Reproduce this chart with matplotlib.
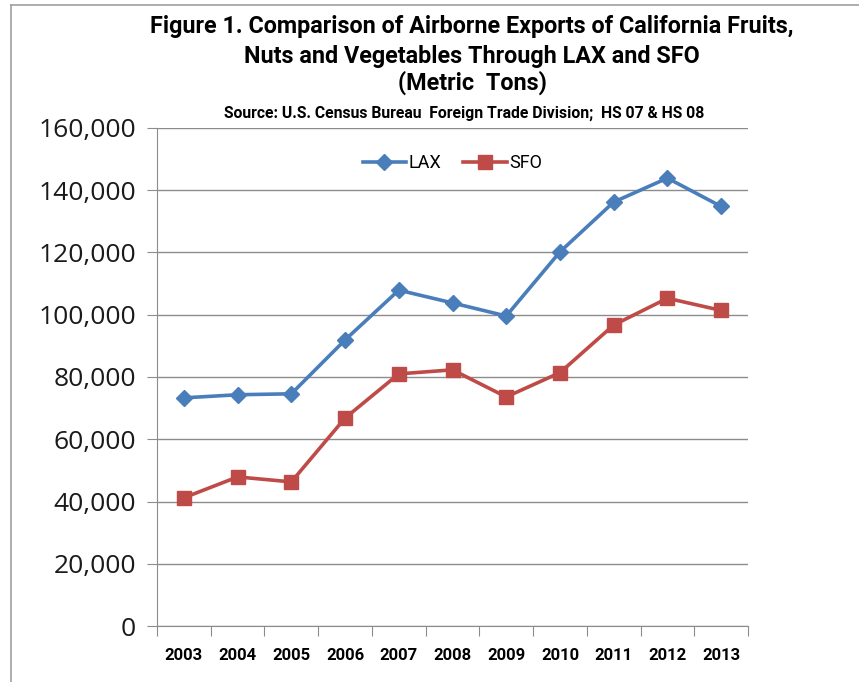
import matplotlib
matplotlib.use("Agg")
import matplotlib.pyplot as plt
from matplotlib.lines import Line2D
from matplotlib.ticker import FuncFormatter

years = ["2003", "2004", "2005", "2006", "2007", "2008", "2009", "2010", "2011", "2012", "2013"]
lax = [73300, 74300, 74600, 91900, 107900, 103800, 99600, 120200, 136200, 143900, 134800]
sfo = [41200, 47900, 46300, 66800, 81000, 82300, 73600, 81400, 96700, 105300, 101400]

plt.rcParams['font.family'] = ['Open Sans', 'DejaVu Sans']
narrow = ['Roboto', 'DejaVu Sans']

W, H = 859, 682
fig = plt.figure(figsize=(W / 100, H / 100), dpi=100)
ax = fig.add_axes([157 / W, 1 - 626 / H, (748 - 157) / W, (626 - 128) / H])

x = list(range(len(years)))
ax.plot(x, lax, color='#4a7ebb', lw=2.6, marker='D', ms=8, label='LAX')
ax.plot(x, sfo, color='#be4b48', lw=2.6, marker='s', ms=10, label='SFO')

ax.set_xlim(-0.5, len(years) - 0.5)
ax.set_ylim(0, 160000)
ax.set_yticks(range(0, 160001, 20000))
ax.yaxis.set_major_formatter(FuncFormatter(lambda v, p: f"{int(v):,}"))
ax.grid(axis='y', color='#8c8c8c', lw=1)
ax.set_axisbelow(True)

# category axis: ticks between years, labels centred in each slot
ax.set_xticks([i - 0.5 for i in range(len(years) + 1)])
ax.set_xticklabels([])
ax.set_xticks(x, minor=True)
ax.set_xticklabels(years, minor=True, fontsize=12, fontweight='bold', family=narrow)
ax.tick_params(axis='x', which='minor', length=0, pad=16)
ax.tick_params(axis='x', which='major', length=7, color='#8c8c8c', direction='out')
ax.tick_params(axis='y', length=7, color='#8c8c8c', labelsize=19, pad=8, labelcolor='#1a1a1a')

for s in ['top', 'right']:
    ax.spines[s].set_visible(False)
for s in ['left', 'bottom']:
    ax.spines[s].set_color('#8c8c8c')

ax.legend(loc='center', bbox_to_anchor=(0.5, 0.93), ncol=2, frameon=False,
          handlelength=2.4, columnspacing=1.2, handletextpad=0.15,
          prop={'family': narrow, 'size': 13})

title_lines = ["Figure 1. Comparison of Airborne Exports of California Fruits,",
               "Nuts and Vegetables Through LAX and SFO",
               "(Metric  Tons)"]
title_y = [27, 56, 83]
for line, yy in zip(title_lines, title_y):
    fig.text(472 / W, 1 - yy / H, line, ha='center', va='center', fontsize=16.8,
             fontweight='bold', family=narrow)
fig.text(464 / W, 1 - 113 / H, "Source: U.S. Census Bureau  Foreign Trade Division;  HS 07 & HS 08",
         ha='center', va='center', fontsize=11.3, fontweight='bold', family=narrow)

fig.add_artist(Line2D([11 / W, 11 / W], [0, 1 - 5 / H], transform=fig.transFigure, color='#a0a0a0', lw=1.2))
fig.add_artist(Line2D([11 / W, 1], [1 - 5 / H, 1 - 5 / H], transform=fig.transFigure, color='#a0a0a0', lw=1.2))

fig.savefig("out.png", dpi=100)
